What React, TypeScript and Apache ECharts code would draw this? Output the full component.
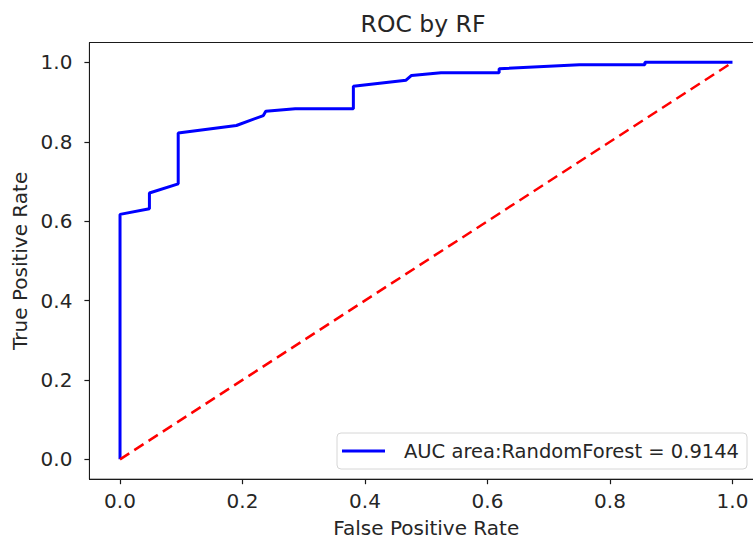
import React, { useEffect, useRef } from "react";
import * as echarts from "echarts";

// ROC curve points (False Positive Rate, True Positive Rate)
const fpr = [0, 0, 0.048, 0.048, 0.095, 0.095, 0.19, 0.234, 0.238, 0.286, 0.381, 0.381, 0.467, 0.476, 0.524, 0.619, 0.619, 0.75, 0.857, 0.857, 1.0];
const tpr = [0, 0.617, 0.631, 0.671, 0.694, 0.822, 0.841, 0.866, 0.877, 0.883, 0.883, 0.94, 0.955, 0.967, 0.974, 0.974, 0.984, 0.994, 0.994, 1.0, 1.0];
const chanceX = [0, 1];
const chanceY = [0, 1];
const xTicks = [0, 0.2, 0.4, 0.6, 0.8, 1.0];
const yTicks = [0, 0.2, 0.4, 0.6, 0.8, 1.0];
const title = "ROC by RF";
const seriesName = "AUC area:RandomForest = 0.9144";
const xName = "False Positive Rate";
const yName = "True Positive Rate";

const FONT = "DejaVu Sans";
const TXT = "#262626";
const SPINE = "#1a1a1a";

export default function App() {
  const ref = useRef<HTMLDivElement>(null);
  useEffect(() => {
    if (!ref.current) return;
    const chart = echarts.init(ref.current, null, { renderer: "svg" });
    const gridLeft = 89.4;
    const gridTop = 42.5;
    const gridW = 673.7;
    const gridH = 436.7;
    chart.setOption({
      animation: false,
      backgroundColor: "#ffffff",
      textStyle: { fontFamily: FONT, color: TXT },
      title: {
        text: title,
        left: 418,
        textAlign: "center",
        top: 7,
        textStyle: { fontFamily: FONT, fontSize: 23.5, fontWeight: "normal", color: TXT },
      },
      grid: {
        left: gridLeft,
        top: gridTop,
        width: gridW,
        height: gridH,
        containLabel: false,
        outerBoundsMode: "none",
        show: true,
        borderColor: SPINE,
        borderWidth: 1,
        backgroundColor: "transparent",
      },
      legend: {
        data: [seriesName],
        left: 337,
        top: 433,
        orient: "horizontal",
        icon: "rect",
        itemWidth: 43,
        itemHeight: 3,
        padding: [8, 8, 8, 5],
        backgroundColor: "#ffffff",
        borderColor: "#d6d6d6",
        borderWidth: 1,
        borderRadius: 4,
        textStyle: { fontFamily: FONT, fontSize: 19.5, color: TXT, padding: [0, 0, 0, 14] },
      },
      xAxis: {
        type: "value",
        min: -0.05,
        max: 1.05,
        name: xName,
        nameLocation: "middle",
        nameGap: 39,
        nameTextStyle: { fontFamily: FONT, fontSize: 20, lineHeight: 20, color: TXT },
        axisLine: { show: true, onZero: false, lineStyle: { color: SPINE, width: 1 } },
        axisTick: { show: true, inside: false, length: 5, lineStyle: { color: SPINE, width: 1.2 }, customValues: xTicks },
        axisLabel: {
          customValues: xTicks,
          formatter: (v: number) => v.toFixed(1),
          fontFamily: FONT,
          fontSize: 20,
          color: TXT,
          margin: 12,
        },
        splitLine: { show: false },
      },
      yAxis: {
        type: "value",
        min: -0.05,
        max: 1.05,
        name: yName,
        nameLocation: "middle",
        nameGap: 57,
        nameRotate: 90,
        nameTextStyle: { fontFamily: FONT, fontSize: 20, color: TXT },
        axisLine: { show: true, onZero: false, lineStyle: { color: SPINE, width: 1 } },
        axisTick: { show: true, inside: false, length: 5, lineStyle: { color: SPINE, width: 1.2 }, customValues: yTicks },
        axisLabel: {
          customValues: yTicks,
          formatter: (v: number) => v.toFixed(1),
          fontFamily: FONT,
          fontSize: 20,
          color: TXT,
          margin: 17,
        },
        splitLine: { show: false },
      },
      series: [
        {
          name: seriesName,
          type: "line",
          data: fpr.map((x, i) => [x, tpr[i]]),
          showSymbol: false,
          symbol: "none",
          lineStyle: { color: "#0000ff", width: 3 },
          itemStyle: { color: "#0000ff" },
          z: 2,
        },
        {
          name: "chance",
          type: "line",
          data: chanceX.map((x, i) => [x, chanceY[i]]),
          showSymbol: false,
          symbol: "none",
          lineStyle: { color: "#ff0000", width: 2.5, type: [11, 6] },
          itemStyle: { color: "#ff0000" },
          z: 3,
        },
      ],
    });
    return () => chart.dispose();
  }, []);
  return (
    <div
      style={{ position: "fixed", left: 0, top: 0, width: 753, height: 540, overflow: "hidden", background: "#fff" }}
    >
      <div ref={ref} style={{ position: "absolute", left: 0, top: 0, width: 790, height: 540 }} />
    </div>
  );
}
